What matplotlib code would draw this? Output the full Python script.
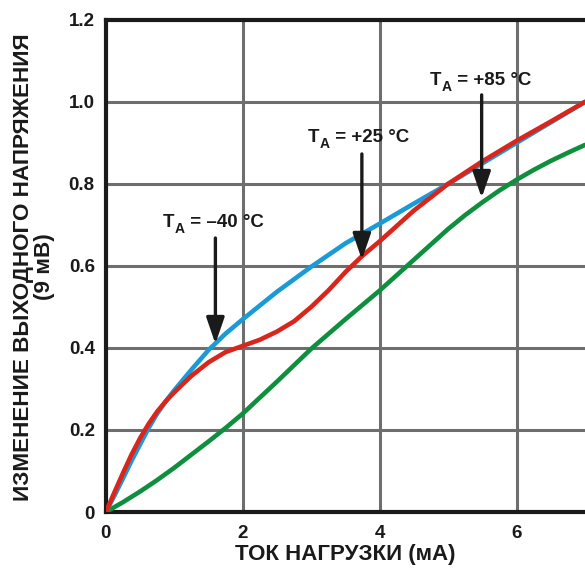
import matplotlib
matplotlib.use("Agg")
import matplotlib.pyplot as plt

plt.rcParams['font.family'] = ['Liberation Sans', 'DejaVu Sans']

x_blue = [0, 0.125, 0.25, 0.375, 0.5, 0.625, 0.75, 0.875, 1.0, 1.25, 1.5, 1.75, 2.0, 2.5, 3.0, 3.5, 4.0, 4.5, 5.0, 5.5, 6.0, 6.5, 7.0]
y_blue = [0, 0.04, 0.082, 0.125, 0.165, 0.205, 0.24, 0.27, 0.297, 0.347, 0.395, 0.435, 0.47, 0.537, 0.598, 0.655, 0.703, 0.752, 0.80, 0.85, 0.90, 0.95, 1.0]

x_red = [0, 0.125, 0.25, 0.375, 0.5, 0.625, 0.75, 0.875, 1.0, 1.25, 1.5, 1.75, 2.0, 2.25, 2.5, 2.75, 3.0, 3.25, 3.5, 3.75, 4.0, 4.5, 5.0, 5.5, 6.0, 6.5, 7.0]
y_red = [0, 0.048, 0.095, 0.14, 0.18, 0.215, 0.245, 0.27, 0.292, 0.332, 0.365, 0.39, 0.405, 0.42, 0.44, 0.465, 0.50, 0.54, 0.585, 0.625, 0.66, 0.735, 0.80, 0.855, 0.905, 0.952, 1.0]

x_green = [0, 0.25, 0.5, 0.75, 1.0, 1.25, 1.5, 1.75, 2.0, 2.5, 3.0, 3.5, 4.0, 4.5, 5.0, 5.25, 5.5, 5.75, 6.0, 6.25, 6.5, 6.75, 7.0]
y_green = [0, 0.024, 0.05, 0.078, 0.108, 0.14, 0.172, 0.205, 0.24, 0.318, 0.398, 0.47, 0.54, 0.615, 0.69, 0.724, 0.755, 0.784, 0.81, 0.834, 0.856, 0.876, 0.895]

x_ticks = [0, 2, 4, 6]
y_ticks = [0, 0.2, 0.4, 0.6, 0.8, 1.0, 1.2]
y_ticklabels = ['0', '0.2', '0.4', '0.6', '0.8', '1.0', '1.2']

label_rest = [' = –40 °C', ' = +25 °C', ' = +85 °C']
arrow_x = [1.6, 3.74, 5.49]
arrow_top = [0.668, 0.873, 1.017]
arrow_tip = [0.41, 0.615, 0.766]
label_start = [(0.83, 0.695), (2.95, 0.902), (4.73, 1.041)]

INK = '#1a1a1a'

fig = plt.figure(figsize=(5.85, 5.71), dpi=100)
ax = fig.add_axes([0.181, 0.1033, 0.819, 0.862])
ax.set_xlim(0, 7)
ax.set_ylim(0, 1.2)

for xv in [2, 4, 6]:
    ax.axvline(xv, color='#6e6e6e', lw=2.2, zorder=1)
for yv in [0.2, 0.4, 0.6, 0.8, 1.0]:
    ax.axhline(yv, color='#6e6e6e', lw=2.2, zorder=1)

ax.plot(x_green, y_green, color='#0e8f3e', lw=3.3, zorder=3, solid_capstyle='round', solid_joinstyle='round')
ax.plot(x_blue, y_blue, color='#1b9ad8', lw=3.3, zorder=3, solid_capstyle='round', solid_joinstyle='round')
ax.plot(x_red, y_red, color='#d9261c', lw=3.3, zorder=4, solid_capstyle='round', solid_joinstyle='round')

for rest, axx, top, tip, (lx, ly) in zip(label_rest, arrow_x, arrow_top, arrow_tip, label_start):
    ax.annotate('', xy=(axx, tip), xytext=(axx, top),
                arrowprops=dict(arrowstyle='-|>,head_length=1.6,head_width=0.55', color=INK,
                                lw=2.4, shrinkA=0, shrinkB=0), zorder=6)
    t1 = ax.text(lx, ly, 'T', ha='left', va='baseline', fontsize=13.5, fontweight='bold', color=INK, zorder=6)
    t2 = ax.annotate('A', xy=(1, ly), xycoords=(t1, 'data'), xytext=(0.3, -4), textcoords='offset points',
                     ha='left', va='baseline', fontsize=10, fontweight='bold', color=INK, zorder=6,
                     annotation_clip=False)
    ax.annotate(rest, xy=(1, ly), xycoords=(t2, 'data'), xytext=(0, 0), textcoords='offset points',
                ha='left', va='baseline', fontsize=13.5, fontweight='bold', color=INK, zorder=6,
                annotation_clip=False)

ax.set_xticks(x_ticks)
ax.set_xticklabels([str(t) for t in x_ticks])
ax.set_yticks(y_ticks)
ax.set_yticklabels(y_ticklabels)
ax.tick_params(length=0, labelsize=13.5, colors=INK)
ax.tick_params(axis='y', pad=8)
ax.tick_params(axis='x', pad=9)
for lab in ax.get_xticklabels() + ax.get_yticklabels():
    lab.set_fontweight('bold')

for s in ['left', 'bottom', 'top']:
    ax.spines[s].set_linewidth(3)
    ax.spines[s].set_color(INK)
ax.spines['right'].set_visible(False)

ax.set_xlabel('ТОК НАГРУЗКИ (мА)', fontsize=16, fontweight='bold', color=INK, labelpad=2)
fig.text(34 / 585, 1 - 267 / 571, 'ИЗМЕНЕНИЕ ВЫХОДНОГО НАПРЯЖЕНИЯ\n(9 мВ)', rotation=90,
         ha='center', va='center', multialignment='center', fontsize=16.2, fontweight='bold',
         color=INK, linespacing=1.0)

fig.savefig('out.png', dpi=100)
